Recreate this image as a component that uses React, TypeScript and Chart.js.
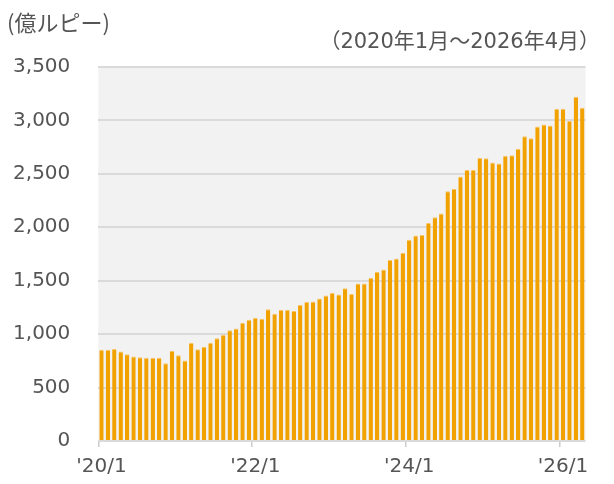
import React, { useEffect, useRef } from "react";
import { Chart, registerables } from "chart.js";

Chart.register(...registerables);

const categories: string[] = [
  "'20/1","'20/2","'20/3","'20/4","'20/5","'20/6","'20/7","'20/8","'20/9","'20/10","'20/11","'20/12",
  "'21/1","'21/2","'21/3","'21/4","'21/5","'21/6","'21/7","'21/8","'21/9","'21/10","'21/11","'21/12",
  "'22/1","'22/2","'22/3","'22/4","'22/5","'22/6","'22/7","'22/8","'22/9","'22/10","'22/11","'22/12",
  "'23/1","'23/2","'23/3","'23/4","'23/5","'23/6","'23/7","'23/8","'23/9","'23/10","'23/11","'23/12",
  "'24/1","'24/2","'24/3","'24/4","'24/5","'24/6","'24/7","'24/8","'24/9","'24/10","'24/11","'24/12",
  "'25/1","'25/2","'25/3","'25/4","'25/5","'25/6","'25/7","'25/8","'25/9","'25/10","'25/11","'25/12",
  "'26/1","'26/2","'26/3","'26/4",
];

const values: number[] = [
  853, 853, 862, 837, 812, 791, 784, 778, 778, 778, 728, 844,
  803, 753, 919, 859, 881, 919, 962, 994, 1037, 1053, 1106, 1134,
  1153, 1144, 1234, 1191, 1228, 1228, 1216, 1272, 1300, 1306, 1334, 1362,
  1387, 1372, 1430, 1375, 1475, 1475, 1525, 1581, 1606, 1694, 1709, 1762,
  1884, 1922, 1928, 2041, 2094, 2128, 2337, 2359, 2475, 2537, 2537, 2650,
  2647, 2606, 2597, 2669, 2675, 2734, 2853, 2834, 2944, 2962, 2953, 3109,
  3109, 2994, 3222, 3119,
];

const xTickLabels: string[] = ["'20/1", "'22/1", "'24/1", "'26/1"];

const unitLabel = "(億ルピー)";
const periodLabel = "（2020年1月～2026年4月）";

const FONT = "'DejaVu Sans', 'Noto Sans CJK JP', sans-serif";
const JFONT = "'Noto Sans CJK JP', sans-serif";
const TEXT = "#555555";

export default function App() {
  const ref = useRef<HTMLCanvasElement | null>(null);

  useEffect(() => {
    document.body.style.margin = "0";
    const canvas = ref.current;
    if (!canvas) return;

    const bgPlugin = {
      id: "bgPlugin",
      beforeDraw(chart: any) {
        const { ctx, chartArea } = chart;
        ctx.save();
        ctx.fillStyle = "#f2f2f2";
        ctx.fillRect(chartArea.left, chartArea.top, chartArea.right - chartArea.left, chartArea.bottom - chartArea.top);
        ctx.restore();
      },
      afterDraw(chart: any) {
        const { ctx } = chart;
        ctx.save();
        ctx.fillStyle = TEXT;
        ctx.textBaseline = "middle";
        ctx.font = `22px ${JFONT}`;
        ctx.textAlign = "left";
        ctx.fillText(unitLabel, 7, 23);
        ctx.font = `21px ${FONT}`;
        ctx.textAlign = "right";
        ctx.fillText(periodLabel, 600, 43);
        ctx.restore();
      },
    };

    const chart = new Chart(canvas, {
      type: "bar",
      data: {
        labels: categories,
        datasets: [
          {
            data: values,
            backgroundColor: "#f2a200",
            borderColor: "#f7c668",
            borderWidth: { top: 1, left: 0, right: 0, bottom: 0 },
            borderSkipped: "bottom",
            categoryPercentage: 1,
            barPercentage: 0.68,
          },
        ],
      },
      options: {
        responsive: false,
        animation: false,
        layout: { padding: { top: 67, right: 28.5, bottom: 0, left: 0 } },
        plugins: {
          legend: { display: false },
          tooltip: { enabled: false },
          title: { display: false },
        },
        scales: {
          x: {
            offset: true,
            grid: {
              offset: true,
              drawOnChartArea: false,
              drawTicks: true,
              tickLength: 6,
              lineWidth: 1.5,
              color: (c: any) => (c.index % 24 === 0 && c.index < categories.length ? "#cccccc" : "rgba(0,0,0,0)"),
            },
            border: { display: false },
            ticks: {
              autoSkip: false,
              maxRotation: 0,
              minRotation: 0,
              padding: 8,
              color: TEXT,
              font: { family: FONT, size: 20 },
              callback: (_v: any, i: number) => (xTickLabels.includes(categories[i]) ? categories[i] : ""),
            },
            afterFit: (scale: any) => {
              scale.height = 43;
            },
          },
          y: {
            min: 0,
            max: 3500,
            ticks: {
              stepSize: 500,
              padding: 28,
              color: TEXT,
              font: { family: FONT, size: 20 },
              callback: (v: any) => Number(v).toLocaleString("en-US"),
            },
            grid: {
              drawTicks: false,
              color: "#dadada",
              lineWidth: 2,
            },
            border: { display: false },
            afterFit: (scale: any) => {
              scale.width = 98.3;
            },
          },
        },
      },
      plugins: [bgPlugin],
    });

    return () => chart.destroy();
  }, []);

  return (
    <div style={{ width: 614, height: 484 }}>
      <canvas ref={ref} width={614} height={484} />
    </div>
  );
}
